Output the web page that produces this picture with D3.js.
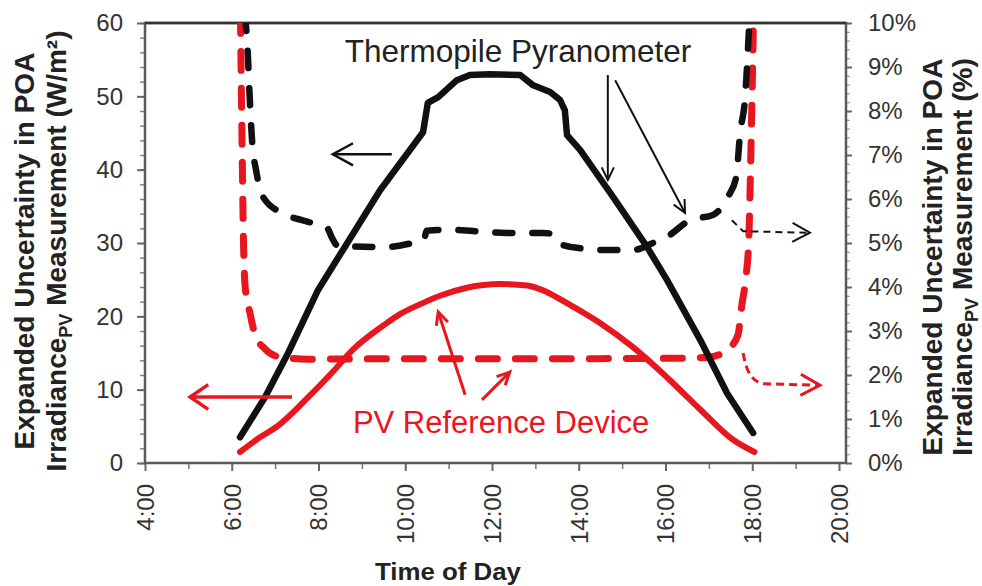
<!DOCTYPE html>
<html>
<head>
<meta charset="utf-8">
<script src="https://cdn.jsdelivr.net/npm/d3@7/dist/d3.min.js"></script>
<style>
  body { margin: 0; background: #fff; }
  svg { display: block; }
  text { font-family: "Liberation Sans", Arial, sans-serif; }
</style>
</head>
<body>
<div id="chart"></div>
<script>
var width = 982, height = 586;
var plotLeft = 145, plotRight = 846, plotTop = 23, plotBottom = 463;

// x ticks (hours) and labels
var hourTicks = [4, 6, 8, 10, 12, 14, 16, 18, 20];
var hourMinor = [5, 7, 9, 11, 13, 15, 17, 19];
var leftTicks = [0, 10, 20, 30, 40, 50, 60];
var rightTicks = [0, 1, 2, 3, 4, 5, 6, 7, 8, 9, 10];

// Thermopile pyranometer, expanded uncertainty (W/m2, left axis)
var thermoAbsHours = [6.19, 6.77, 7.30, 7.99, 8.61, 9.42, 10.41, 10.52, 10.76, 11.19, 11.49, 11.95, 12.65, 12.95, 13.34, 13.57, 13.68, 13.73, 14.03, 14.79, 15.57, 16.03, 16.80, 17.42, 18.02];
var thermoAbs = [3.5, 9.0, 15.0, 23.6, 29.5, 37.2, 45.1, 49.1, 49.9, 52.2, 52.9, 53.0, 52.9, 51.5, 50.6, 49.5, 48.1, 44.7, 42.7, 36.3, 29.5, 25.0, 16.8, 9.5, 4.1];

// PV reference device, expanded uncertainty (W/m2, left axis)
var pvAbsHours = [6.19, 6.6, 7.07, 7.7, 8.31, 8.80, 9.53, 9.88, 10.40, 10.80, 11.42, 12.18, 12.81, 13.27, 13.73, 14.49, 15.25, 16.03, 16.80, 17.55, 18.05];
var pvAbs = [1.5, 3.3, 5.1, 8.6, 12.3, 15.5, 18.9, 20.3, 21.8, 22.8, 23.9, 24.4, 24.2, 23.3, 21.8, 19.1, 15.8, 11.7, 7.3, 3.2, 1.5];

// Thermopile pyranometer, expanded uncertainty (%, right axis)
var thermoPctHours = [6.30, 6.36, 6.41, 6.47, 6.56, 6.72, 7.16, 7.69, 8.20, 8.32, 8.45, 9.58, 10.27, 10.42, 10.50, 10.96, 12.35, 13.18, 13.40, 13.52, 13.96, 14.65, 15.25, 15.71, 16.03, 16.57, 17.10, 17.44, 17.63, 17.72, 17.83, 17.90, 17.94];
var thermoPct = [10.2, 9.5, 8.4, 7.3, 6.66, 6.05, 5.68, 5.50, 5.34, 5.1, 4.93, 4.91, 5.02, 5.05, 5.28, 5.30, 5.23, 5.23, 5.20, 5.0, 4.89, 4.84, 4.84, 5.0, 5.14, 5.52, 5.64, 6.05, 6.5, 7.5, 8.25, 9.39, 10.2];

// PV reference device, expanded uncertainty (%, right axis)
var pvPctHours = [6.20, 6.24, 6.27, 6.31, 6.42, 6.54, 6.77, 7.11, 7.76, 10.0, 13.0, 16.3, 17.03, 17.42, 17.67, 17.76, 17.86, 17.92, 17.97, 18.03];
var pvPct = [10.2, 7.1, 5.07, 4.0, 3.41, 2.91, 2.59, 2.41, 2.36, 2.37, 2.37, 2.38, 2.41, 2.57, 2.91, 3.59, 4.27, 5.07, 7.11, 10.2];

var RED = "#e8161f", BLACK = "#111";
var FONT = "\"Liberation Sans\", Arial, sans-serif";

const svg = d3.select("#chart")
              .append("svg")
              .attr("width", width)
              .attr("height", height);

const x = d3.scaleLinear().domain([4, 20]).range([plotLeft, 839]);
const yL = d3.scaleLinear().domain([0, 60]).range([plotBottom, plotTop]);
const yR = d3.scaleLinear().domain([0, 10]).range([plotBottom, plotTop]);

svg.append("clipPath").attr("id", "clip")
   .append("rect")
   .attr("x", plotLeft).attr("y", plotTop)
   .attr("width", plotRight - plotLeft).attr("height", plotBottom - plotTop);

// minor ticks first
svg.append("g")
   .attr("transform", `translate(${plotLeft},0)`)
   .call(d3.axisLeft(yL).tickValues(d3.range(0, 61, 2)).tickSize(5).tickFormat(""))
   .call(g => g.select(".domain").remove())
   .selectAll("line").attr("stroke", "#888").attr("stroke-width", 1.5);

svg.append("g")
   .attr("transform", `translate(${plotRight},0)`)
   .call(d3.axisRight(yR).tickValues(d3.range(0, 10.01, 0.2)).tickSize(4).tickFormat(""))
   .call(g => g.select(".domain").remove())
   .selectAll("line").attr("stroke", "#999").attr("stroke-width", 1.2);

svg.append("g")
   .attr("transform", `translate(0,${plotBottom})`)
   .call(d3.axisBottom(x).tickValues(hourMinor).tickSize(6).tickFormat(""))
   .call(g => g.select(".domain").remove())
   .selectAll("line").attr("stroke", "#777").attr("stroke-width", 1.5);

// major axes
const axL = svg.append("g")
   .attr("transform", `translate(${plotLeft},0)`)
   .call(d3.axisLeft(yL).tickValues(leftTicks).tickSize(8).tickPadding(14));

const axR = svg.append("g")
   .attr("transform", `translate(${plotRight},0)`)
   .call(d3.axisRight(yR).tickValues(rightTicks).tickSize(6).tickPadding(16).tickFormat(d => d + "%"));

const axB = svg.append("g")
   .attr("transform", `translate(0,${plotBottom})`)
   .call(d3.axisBottom(x).tickValues(hourTicks).tickSize(8).tickFormat(d => d + ":00"));

[axL, axR, axB].forEach(function(ax) {
  ax.select(".domain").remove();
  ax.selectAll("line").attr("stroke", "#666").attr("stroke-width", 2);
  ax.selectAll("text")
    .attr("fill", "#333")
    .style("font-family", FONT)
    .style("font-size", "24px");
});

axB.selectAll("text")
   .attr("transform", "rotate(-90)")
   .attr("x", -21)
   .attr("y", 0)
   .attr("dy", "0.35em")
   .style("text-anchor", "end");

// plot frame
svg.append("rect")
   .attr("x", plotLeft).attr("y", plotTop)
   .attr("width", plotRight - plotLeft).attr("height", plotBottom - plotTop)
   .attr("fill", "none")
   .attr("stroke", "#5a5a5a")
   .attr("stroke-width", 2.5);
svg.append("line")
   .attr("x1", plotLeft).attr("x2", plotRight)
   .attr("y1", plotTop).attr("y2", plotTop)
   .attr("stroke", "#333").attr("stroke-width", 2.5);

// series
const lineL = d3.line().x(d => x(d[0])).y(d => yL(d[1]));
const lineR = d3.line().x(d => x(d[0])).y(d => yR(d[1])).curve(d3.curveMonotoneX);
const lineLs = d3.line().x(d => x(d[0])).y(d => yL(d[1])).curve(d3.curveMonotoneX);

const series = svg.append("g").attr("clip-path", "url(#clip)");

series.append("path")
      .datum(d3.zip(pvPctHours, pvPct))
      .attr("d", lineR)
      .attr("fill", "none")
      .attr("stroke", RED)
      .attr("stroke-width", 7)
      .attr("stroke-linecap", "round")
      .attr("stroke-dasharray", "19,18");

series.append("path")
      .datum(d3.zip(thermoPctHours, thermoPct))
      .attr("d", lineR)
      .attr("fill", "none")
      .attr("stroke", BLACK)
      .attr("stroke-width", 6.5)
      .attr("stroke-linecap", "round")
      .attr("stroke-dasharray", "17,20");

series.append("path")
      .datum(d3.zip(pvAbsHours, pvAbs))
      .attr("d", lineLs)
      .attr("fill", "none")
      .attr("stroke", RED)
      .attr("stroke-width", 6)
      .attr("stroke-linecap", "round");

series.append("path")
      .datum(d3.zip(thermoAbsHours, thermoAbs))
      .attr("d", lineL)
      .attr("fill", "none")
      .attr("stroke", BLACK)
      .attr("stroke-width", 6.5)
      .attr("stroke-linecap", "round")
      .attr("stroke-linejoin", "round");

// annotation arrows, in (hour, left-axis value) coordinates
function pt(p) { return [x(p[0]), yL(p[1])]; }

function arrow(points, color, w, len, spread, dash, curved) {
  var px = points.map(pt);
  var path = d3.path();
  path.moveTo(px[0][0], px[0][1]);
  if (curved) {
    path.quadraticCurveTo(px[1][0], px[1][1], px[2][0], px[2][1]);
    for (var i = 3; i < px.length; i++) path.lineTo(px[i][0], px[i][1]);
  } else {
    for (var i = 1; i < px.length; i++) path.lineTo(px[i][0], px[i][1]);
  }
  svg.append("path")
     .attr("d", path.toString())
     .attr("fill", "none")
     .attr("stroke", color)
     .attr("stroke-width", w)
     .attr("stroke-dasharray", dash || null);
  var tip = px[px.length - 1], prev = px[px.length - 2];
  var ang = Math.atan2(tip[1] - prev[1], tip[0] - prev[0]);
  var a1 = ang + Math.PI - spread, a2 = ang + Math.PI + spread;
  svg.append("path")
     .attr("d", `M${tip[0] + len * Math.cos(a1)},${tip[1] + len * Math.sin(a1)}L${tip[0]},${tip[1]}L${tip[0] + len * Math.cos(a2)},${tip[1] + len * Math.sin(a2)}`)
     .attr("fill", "none")
     .attr("stroke", color)
     .attr("stroke-width", w)
     .attr("stroke-linejoin", "miter");
}

arrow([[9.69, 42.1], [8.33, 42.1]], BLACK, 2.5, 23, 0.5);
arrow([[14.67, 52.9], [14.67, 38.6]], BLACK, 2, 14, 0.45);
arrow([[14.84, 52.2], [16.45, 34.1]], BLACK, 2, 14, 0.45);
arrow([[17.53, 33.1], [17.79, 31.6], [19.33, 31.4]], BLACK, 2, 20, 0.5, "7,5");
arrow([[7.39, 9.0], [5.04, 9.0]], RED, 3.5, 22, 0.6);
arrow([[11.38, 9.3], [10.76, 20.6]], RED, 3, 14, 0.45);
arrow([[11.77, 8.6], [12.41, 12.4]], RED, 3, 14, 0.45);
arrow([[17.79, 15.0], [17.90, 10.9], [18.29, 10.8], [19.56, 10.6]], RED, 3, 22, 0.5, "8,5", true);

// annotation labels
svg.append("text")
   .attr("x", x(12.6)).attr("y", yL(54.7))
   .attr("text-anchor", "middle")
   .attr("fill", "#222")
   .style("font-size", "31.5px")
   .text("Thermopile Pyranometer");

svg.append("text")
   .attr("x", x(12.21)).attr("y", yL(4.1))
   .attr("text-anchor", "middle")
   .attr("fill", RED)
   .style("font-size", "31px")
   .text("PV Reference Device");

// axis titles
function yTitle(cx, cy, unit, gap) {
  var t = svg.append("text")
     .attr("transform", `translate(${cx},${cy}) rotate(-90)`)
     .attr("text-anchor", "middle")
     .attr("fill", "#222")
     .style("font-size", "28px")
     .style("font-weight", "bold");
  t.append("tspan").attr("x", 0).attr("y", 0).text("Expanded Uncertainty in POA");
  t.append("tspan").attr("x", 0).attr("y", gap).text("Irradiance");
  t.append("tspan").attr("dy", 6).style("font-size", "18px").text("PV");
  t.append("tspan").attr("dy", -6).text(" Measurement (" + unit + ")");
}
yTitle(34, 251, "W/m\u00B2", 32);
yTitle(942, 257, "%", 30);

svg.append("text")
   .attr("x", 448).attr("y", 580)
   .attr("text-anchor", "middle")
   .attr("fill", "#222")
   .attr("textLength", 146)
   .attr("lengthAdjust", "spacingAndGlyphs")
   .style("font-size", "23px")
   .style("font-weight", "bold")
   .text("Time of Day");
</script>
</body>
</html>
